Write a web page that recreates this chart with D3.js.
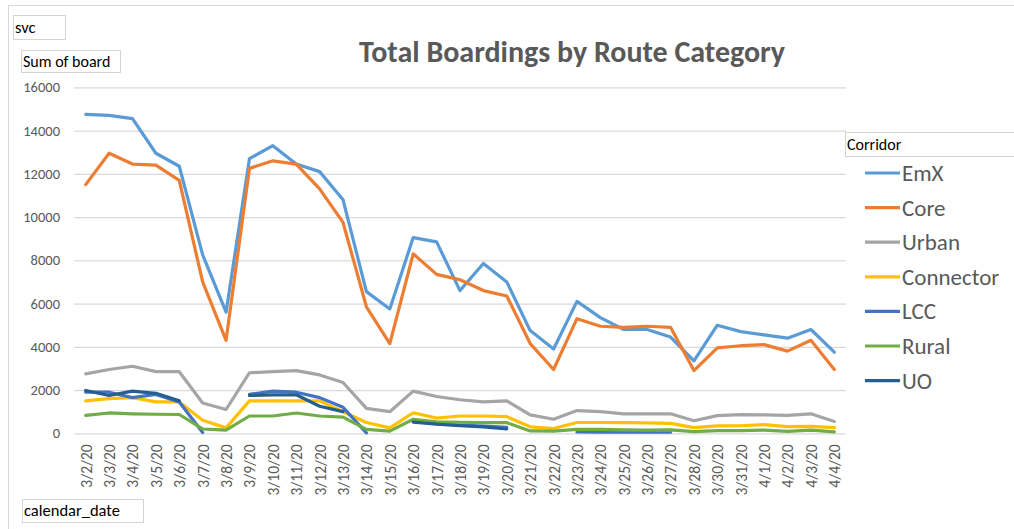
<!DOCTYPE html>
<html>
<head>
<meta charset="utf-8">
<script src="https://cdn.jsdelivr.net/npm/d3@7"></script>
<style>
  body { margin: 0; background: #fff; }
  text { font-family: Carlito, "Open Sans", "Liberation Sans", sans-serif; }
</style>
</head>
<body>
<svg id="chart" width="1014" height="529"></svg>
<script>
// Categories (calendar_date)
const dates = ['3/2/20','3/3/20','3/4/20','3/5/20','3/6/20','3/7/20','3/8/20','3/9/20','3/10/20','3/11/20',
  '3/12/20','3/13/20','3/14/20','3/15/20','3/16/20','3/17/20','3/18/20','3/19/20','3/20/20','3/21/20',
  '3/22/20','3/23/20','3/24/20','3/25/20','3/26/20','3/27/20','3/28/20','3/30/20','3/31/20','4/1/20',
  '4/2/20','4/3/20','4/4/20'];

const yTicks = [0, 2000, 4000, 6000, 8000, 10000, 12000, 14000, 16000];

// Series values (null = no data)
const emx = [14750, 14700, 14550, 12950, 12350, 8250, 5600, 12700, 13300, 12450,
  12100, 10800, 6550, 5750, 9050, 8850, 6600, 7850, 7000, 4750,
  3900, 6100, 5350, 4800, 4800, 4450, 3350, 5000, 4700, 4550,
  4400, 4800, 3750];
const core = [11500, 12950, 12450, 12400, 11700, 7000, 4300, 12250, 12600, 12450,
  11300, 9750, 5850, 4150, 8300, 7350, 7100, 6600, 6350, 4150,
  2950, 5300, 4950, 4900, 4950, 4900, 2900, 3950, 4050, 4100,
  3800, 4300, 2950];
const urban = [2750, 2950, 3100, 2850, 2850, 1400, 1100, 2800, 2850, 2900,
  2700, 2350, 1150, 1000, 1950, 1700, 1550, 1450, 1500, 850,
  650, 1050, 1000, 900, 900, 900, 580, 820, 860, 850,
  830, 900, 550];
const connector = [1500, 1600, 1650, 1450, 1450, 600, 250, 1500, 1500, 1500,
  1500, 1000, 500, 250, 950, 700, 800, 800, 770, 300,
  220, 500, 500, 490, 480, 460, 260, 340, 350, 400,
  310, 320, 260];
const lcc = [1900, 1900, 1650, 1800, 1450, 40, null, 1800, 1950, 1900,
  1650, 1200, 20, null, 550, 450, 380, 330, 270, null,
  null, 60, 50, 50, 50, 50, null, null, null, null,
  null, null, null];
const rural = [830, 940, 900, 880, 870, 200, 150, 800, 800, 940,
  800, 750, 180, 100, 650, 530, 510, 490, 490, 110,
  100, 180, 180, 160, 150, 160, 80, 120, 120, 150,
  90, 150, 70];
const uo = [1980, 1750, 1950, 1850, 1500, null, null, 1750, 1780, 1780,
  1250, 1000, null, null, 520, 420, 350, 300, 200, null,
  null, null, null, null, null, null, null, null, null, null,
  null, null, null];

const seriesNames = ['EmX', 'Core', 'Urban', 'Connector', 'LCC', 'Rural', 'UO'];
const seriesValues = [emx, core, urban, connector, lcc, rural, uo];
const seriesColors = ['#5B9BD5', '#ED7D31', '#A5A5A5', '#FFC000', '#4472C4', '#70AD47', '#255E91'];

const svg = d3.select('#chart');
const textColor = '#595959';

// outer chart frame
svg.append('rect')
  .attr('x', 8.5).attr('y', 5.5)
  .attr('width', 1020).attr('height', 530)
  .attr('fill', 'none')
  .attr('stroke', '#D9D9D9');

const plot = { left: 74, right: 846, top: 87.3, bottom: 433.3 };

const x = d3.scalePoint()
  .domain(dates)
  .range([plot.left, plot.right])
  .padding(0.5);

const y = d3.scaleLinear()
  .domain([0, 16000])
  .range([plot.bottom, plot.top]);

// gridlines + y labels
const yAxis = d3.axisLeft(y)
  .tickValues(yTicks)
  .tickSize(-(plot.right - plot.left))
  .tickPadding(14)
  .tickFormat(d3.format('d'));

const gy = svg.append('g')
  .attr('transform', `translate(${plot.left},0)`)
  .call(yAxis);
gy.select('.domain').remove();
gy.selectAll('.tick line').attr('stroke', '#D9D9D9').attr('stroke-width', 1.3);
gy.selectAll('.tick text')
  .attr('fill', textColor)
  .style('font-size', '14.5px');

// x axis labels
const xAxis = d3.axisBottom(x).tickSize(0).tickPadding(0);
const gx = svg.append('g')
  .attr('transform', `translate(0,${plot.bottom})`)
  .call(xAxis);
gx.select('.domain').remove();
gx.selectAll('.tick text')
  .attr('fill', textColor)
  .style('font-size', '15.5px')
  .attr('text-anchor', 'end')
  .attr('transform', 'rotate(-90)')
  .attr('x', -11)
  .attr('y', 0)
  .attr('dy', '0.35em');

// lines
const line = d3.line()
  .defined(d => d.v !== null)
  .x(d => x(d.date))
  .y(d => y(d.v));

seriesNames.forEach((name, s) => {
  const pts = dates.map((date, i) => ({ date, v: seriesValues[s][i] }));
  svg.append('path')
    .datum(pts)
    .attr('class', 'series-line')
    .attr('d', line)
    .attr('fill', 'none')
    .attr('stroke', seriesColors[s])
    .attr('stroke-width', 3.2)
    .attr('stroke-linejoin', 'round')
    .attr('stroke-linecap', 'round')
    .attr('data-series', name);
});

// title
svg.append('text')
  .attr('x', 572)
  .attr('y', 62)
  .attr('text-anchor', 'middle')
  .attr('fill', textColor)
  .style('font-size', '30px')
  .style('font-weight', 'bold')
  .text('Total Boardings by Route Category');

// field buttons
function fieldButton(bx, by, bw, bh, label, size) {
  svg.append('rect')
    .attr('x', bx + 0.5).attr('y', by + 0.5)
    .attr('width', bw).attr('height', bh)
    .attr('fill', '#fff')
    .attr('stroke', '#D4D4D4');
  svg.append('text')
    .attr('x', bx + 2)
    .attr('y', by + bh / 2)
    .attr('dy', '0.35em')
    .attr('fill', '#000')
    .style('font-size', size + 'px')
    .text(label);
}
fieldButton(13, 15, 52, 24, 'svc', 16.5);
fieldButton(21, 50, 99, 22, 'Sum of board', 16);
fieldButton(845, 132, 175, 24, 'Corridor', 16);
fieldButton(22, 499, 121, 23, 'calendar_date', 16.5);

// legend
const legend = svg.append('g').attr('transform', 'translate(865,173)');
seriesNames.forEach((name, i) => {
  const row = legend.append('g').attr('transform', `translate(0,${i * 34.6})`);
  row.append('line')
    .attr('x1', 0).attr('x2', 35)
    .attr('y1', 0).attr('y2', 0)
    .attr('stroke', seriesColors[i])
    .attr('stroke-width', 3.2);
  row.append('text')
    .attr('x', 37)
    .attr('y', 0)
    .attr('dy', '0.35em')
    .attr('fill', textColor)
    .style('font-size', '23px')
    .text(name);
});
</script>
</body>
</html>
